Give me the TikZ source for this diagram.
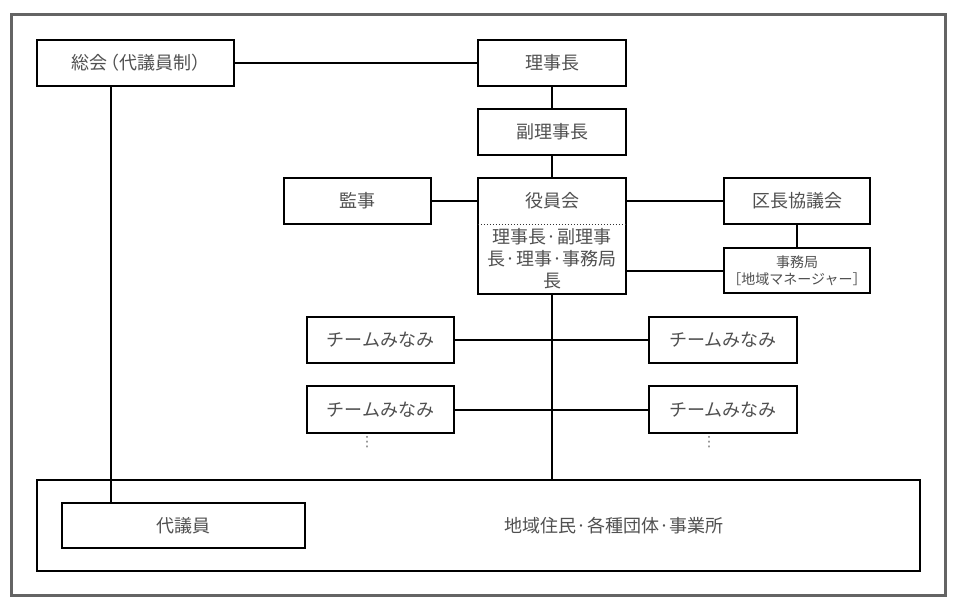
\documentclass[tikz,border=0pt]{standalone}
\usepackage{fontspec}
\setmainfont{Noto Sans CJK JP}
\newfontfamily\dejavu{DejaVu Sans}
\usetikzlibrary{calc}
\definecolor{txtgray}{RGB}{80,80,80}
\definecolor{framegray}{RGB}{100,100,100}
\begin{document}
\begin{tikzpicture}[x=1pt,y=-1pt,
  box/.style={draw=black,line width=2pt,inner sep=0pt,text=txtgray,
    font=\fontsize{18}{21}\selectfont,align=center},
  plain/.style={inner sep=0pt,text=txtgray,font=\fontsize{18}{21}\selectfont,align=center},
  conn/.style={draw=black,line width=2pt}]
\useasboundingbox (0,0) rectangle (956,605);
\fill[white] (0,0) rectangle (956,605);
\draw[framegray,line width=3pt] (11,14) rectangle (945,595);

% top row
\node[box,minimum width=197pt,minimum height=46pt] (sokai) at (135.5,62.5) {総会\kern-6pt（代議員制）\kern-10pt};
\node[box,minimum width=148pt,minimum height=46pt] (rijicho) at (552,62.5) {理事長};
\node[box,minimum width=148pt,minimum height=46pt] (fuku) at (552,132) {副理事長};

% yakuinkai
\node[plain,minimum width=148pt,minimum height=46pt] (yhead) at (552,201) {役員会};
\node[plain,minimum width=148pt,minimum height=69pt,font=\fontsize{18}{22}\selectfont] (members) at (552,259) {理事長·副理事\\長·理事·事務局\\長};
\draw[line width=2pt] (yhead.north west) rectangle (members.south east);
\draw[line width=1pt,dotted,black!80] (yhead.south west) -- (yhead.south east);

\node[box,minimum width=147pt,minimum height=46pt] (kanji) at (357.5,201) {監事};
\node[box,minimum width=146pt,minimum height=46pt] (kucho) at (797,201) {区長協議会};
\node[box,minimum width=146pt,minimum height=45pt,font=\fontsize{14}{17}\selectfont] (jimu) at (797,270.5) {事務局\\［地域マネージャー］};

% teams
\node[box,minimum width=147pt,minimum height=46pt] (tl1) at (380.5,340) {チームみなみ};
\node[box,minimum width=148pt,minimum height=46pt] (tr1) at (723,340) {チームみなみ};
\node[box,minimum width=147pt,minimum height=47pt] (tl2) at (380.5,409.5) {チームみなみ};
\node[box,minimum width=148pt,minimum height=47pt] (tr2) at (723,409.5) {チームみなみ};
\node[plain,font=\dejavu\fontsize{14}{16}\selectfont,text=txtgray!80] (dl) at (367,442) {⋮};
\node[plain,font=\dejavu\fontsize{14}{16}\selectfont,text=txtgray!80] (dr) at (709,442) {⋮};

% bottom
\node[box,minimum width=883pt,minimum height=91pt] (bottom) at (478.5,525.5) {};
\node[box,minimum width=243pt,minimum height=45pt] (daigiin) at (183.5,525.5) {代議員};
\node[plain] (jumin) at (614,525.5) {地域住民·各種団体·事業所};

% connectors
\draw[conn] (sokai.east) -- (rijicho.west);
\draw[conn] (rijicho.south) -- (fuku.north);
\draw[conn] (fuku.south) -- (yhead.north);
\draw[conn] (kanji.east) -- (yhead.west);
\draw[conn] (yhead.east) -- (kucho.west);
\draw[conn] (kucho.south) -- (jimu.north);
\draw[conn] (jimu.west) -- (jimu.west -| members.east);
\draw[conn] (members.south) -- (members.south |- bottom.north);
\draw[conn] (tl1.east) -- (tr1.west);
\draw[conn] (tl2.east) -- (tr2.west);
\coordinate (sx) at (111,0);
\draw[conn] (sx |- sokai.south) -- (sx |- daigiin.north);
\end{tikzpicture}
\end{document}
